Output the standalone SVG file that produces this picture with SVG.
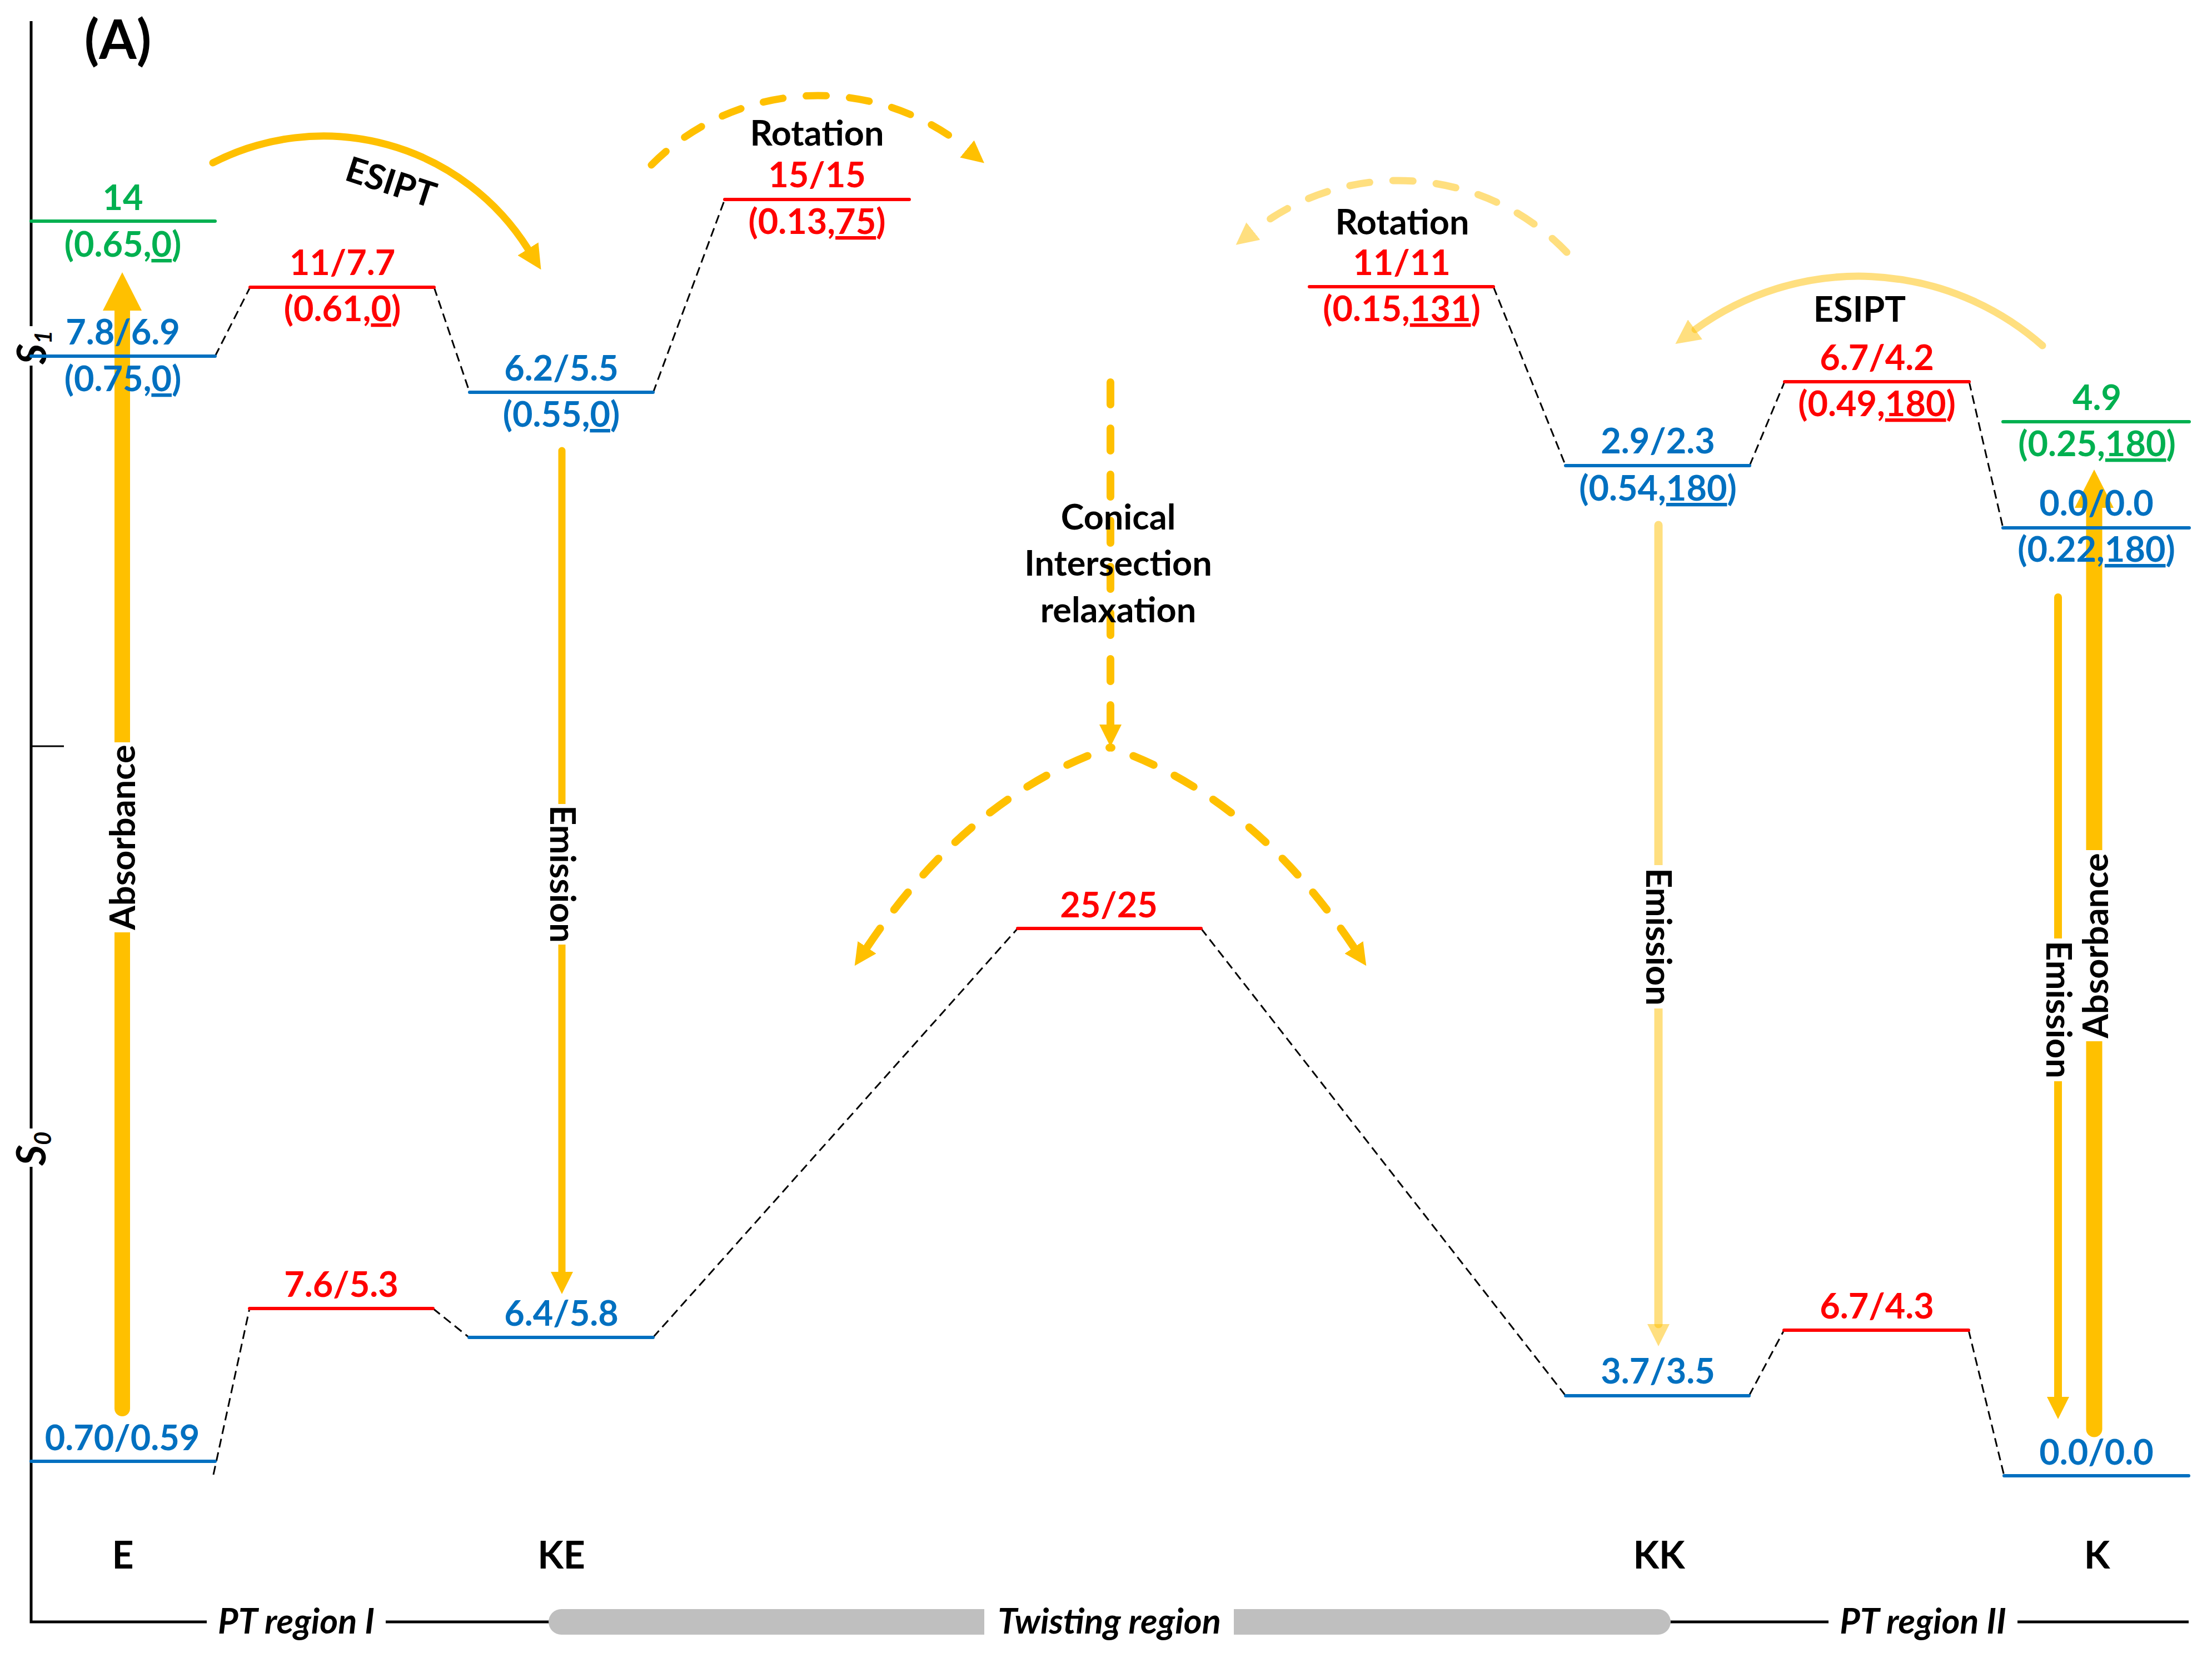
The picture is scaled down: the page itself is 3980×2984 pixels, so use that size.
<svg xmlns="http://www.w3.org/2000/svg" width="3980" height="2984" viewBox="0 0 3980 2984">
<style>
.t{font-family:Lato,'Open Sans','Liberation Sans',sans-serif;font-weight:700;font-size:63px;text-anchor:middle}
.big{font-size:68px}
.cb{fill:#0070C0}.cr{fill:#FF0000}.cg{fill:#00B050}.ck{fill:#000}
.it{font-style:italic}
.u{text-decoration:underline}
.lv{fill:none;stroke-width:6;stroke-linecap:round}
.lb{stroke:#0070C0}.lr{stroke:#FF0000}.lg{stroke:#00B050}
.dl{fill:none;stroke:#000;stroke-width:3;stroke-dasharray:16 9}
.ax{fill:none;stroke:#000;stroke-width:5}
.ya{fill:none;stroke:#FFC000;stroke-linecap:round}
.lt{stroke-opacity:.5}
.dr{stroke-dasharray:36 42}
.dc{stroke-dasharray:40 43}
.wb{fill:#fff}
</style>
<defs>
<marker id="hBig" markerUnits="userSpaceOnUse" viewBox="0 0 69 70" markerWidth="69" markerHeight="70" refX="0" refY="35" orient="auto"><path d="M0,0L69,35L0,70Z" fill="#FFC000"/></marker>
<marker id="hSm" markerUnits="userSpaceOnUse" viewBox="0 0 40 40" markerWidth="40" markerHeight="40" refX="0" refY="20" orient="auto"><path d="M0,0L40,20L0,40Z" fill="#FFC000"/></marker>
<marker id="hSmL" markerUnits="userSpaceOnUse" viewBox="0 0 40 40" markerWidth="40" markerHeight="40" refX="0" refY="20" orient="auto"><path d="M0,0L40,20L0,40Z" fill="#FFC000" fill-opacity=".5"/></marker>
<marker id="hCv" markerUnits="userSpaceOnUse" viewBox="0 0 44 44" markerWidth="44" markerHeight="44" refX="0" refY="22" orient="auto"><path d="M0,0L44,22L0,44Z" fill="#FFC000"/></marker>
<marker id="hCvL" markerUnits="userSpaceOnUse" viewBox="0 0 44 44" markerWidth="44" markerHeight="44" refX="0" refY="22" orient="auto"><path d="M0,0L44,22L0,44Z" fill="#FFC000" fill-opacity=".5"/></marker>
</defs>
<rect width="3980" height="2984" fill="#fff"/>

<g id="axes">
<path class="ax" d="M56,38V2919H3938"/>
<path d="M56,1343H115" stroke="#000" stroke-width="3"/>
<rect class="wb" x="40" y="587" width="34" height="71"/>
<rect class="wb" x="40" y="2031" width="34" height="69"/>
<text class="t it ck" style="font-size:72px;text-anchor:start" transform="translate(83,656) rotate(-90)">S<tspan dy="10" style="font-size:42px">1</tspan></text>
<text class="t it ck" style="font-size:72px;text-anchor:start" transform="translate(82,2098) rotate(-90)">S<tspan dy="10" style="font-size:42px">0</tspan></text>
<rect x="987" y="2896" width="2019" height="46" rx="23" fill="#BFBFBF"/>
<rect class="wb" x="372" y="2885" width="322" height="70"/>
<rect class="wb" x="1771" y="2885" width="449" height="70"/>
<rect class="wb" x="3290" y="2885" width="340" height="70"/>
<text class="t it ck" x="533" y="2940">PT region I</text>
<text class="t it ck" x="1996" y="2940">Twisting region</text>
<text class="t it ck" x="3460" y="2940">PT region II</text>
<text class="t ck" style="font-size:97px" x="212" y="106">(A)</text>
</g>

<g id="connectors">
<path class="dl" d="M387,641L450,517M781,517L845,706M1175,707L1304,359M2687,516L2817,838M3148,838L3211,687M3543,687L3604,950"/>
<path class="dl" d="M384,2654L449,2355M779,2355L844,2407M1175,2407L1831,1671M2161,1671L2817,2512M3147,2512L3210,2394M3542,2394L3606,2656"/>
<path class="ya" stroke-width="28" d="M220,2535V559" marker-end="url(#hBig)"/>
<path class="ya" stroke-width="29" d="M3768,2572V914" marker-end="url(#hBig)"/>
<path class="ya" stroke-width="13" d="M1011,811V2289" marker-end="url(#hSm)"/>
<path class="ya" stroke-width="14" d="M3703,1075V2514" marker-end="url(#hSm)"/>
<path class="ya lt" stroke-width="15" d="M2984,945V2383" marker-end="url(#hSmL)"/>
<path class="ya" stroke-width="13" d="M383,293A435,435 0 0 1 950,448" marker-end="url(#hCv)"/>
<path class="ya lt" stroke-width="13" d="M3675,622A500,500 0 0 0 3050,593" marker-end="url(#hCvL)"/>
<path class="ya dr" stroke-width="13" d="M1172,297A422.5,422.5 0 0 1 1740,268" marker-end="url(#hSm)"/>
<path class="ya lt dr" stroke-width="13" d="M2819,454A420,420 0 0 0 2255,416" marker-end="url(#hSmL)"/>
<path class="ya dc" stroke-width="14" d="M1998,688V1304" marker-end="url(#hSm)"/>
<path class="ya" stroke-width="14" stroke-dasharray="40 42" stroke-dashoffset="38" d="M1998,1345Q1743,1432 1560,1705" marker-end="url(#hSm)"/>
<path class="ya" stroke-width="14" stroke-dasharray="40 42" stroke-dashoffset="38" d="M1998,1345Q2253,1432 2436,1705" marker-end="url(#hSm)"/>
<rect class="wb" x="205" y="1336" width="31" height="342"/>
<rect class="wb" x="1003" y="1447" width="17" height="253"/>
<rect class="wb" x="2975" y="1557" width="19" height="258"/>
<rect class="wb" x="3694" y="1689" width="18" height="257"/>
<rect class="wb" x="3752" y="1530" width="33" height="344"/>
<text class="t ck" transform="translate(243,1507) rotate(-90)">Absorbance</text>
<text class="t ck" transform="translate(3793,1702) rotate(-90)">Absorbance</text>
<text class="t ck" transform="translate(990,1573) rotate(90)">Emission</text>
<text class="t ck" transform="translate(2962,1686) rotate(90)">Emission</text>
<text class="t ck" transform="translate(3682,1817) rotate(90)">Emission</text>
<text class="t ck" transform="translate(703,330) rotate(18)" dy="20">ESIPT</text>
<text class="t ck" x="3346" y="579">ESIPT</text>
<text class="t ck" x="1470" y="262">Rotation</text>
<text class="t ck" x="2523" y="422">Rotation</text>
<text class="t ck" x="2012" y="953">Conical</text>
<text class="t ck" x="2012" y="1036">Intersection</text>
<text class="t ck" x="2012" y="1120">relaxation</text>
</g>

<g id="E-S1-FC"><path class="lv lg" d="M56,398H387"/><text class="t cg" x="221" y="378">14</text><text class="t cg" x="221" y="462">(0.65,<tspan class="u">0</tspan>)</text></g>
<g id="E-S1"><path class="lv lb" d="M56,641H387"/><text class="t cb" x="221" y="620">7.8/6.9</text><text class="t cb" x="221" y="704">(0.75,<tspan class="u">0</tspan>)</text></g>
<g id="TS1-S1"><path class="lv lr" d="M450,517H781"/><text class="t cr" x="616" y="495">11/7.7</text><text class="t cr" x="616" y="578">(0.61,<tspan class="u">0</tspan>)</text></g>
<g id="KE-S1"><path class="lv lb" d="M845,706H1175"/><text class="t cb" x="1010" y="685">6.2/5.5</text><text class="t cb" x="1010" y="768">(0.55,<tspan class="u">0</tspan>)</text></g>
<g id="TS2-S1"><path class="lv lr" d="M1304,359H1636"/><text class="t cr" x="1470" y="337">15/15</text><text class="t cr" x="1470" y="421">(0.13,<tspan class="u">75</tspan>)</text></g>
<g id="TS3-S1"><path class="lv lr" d="M2356,516H2687"/><text class="t cr" x="2522" y="495">11/11</text><text class="t cr" x="2522" y="578">(0.15,<tspan class="u">131</tspan>)</text></g>
<g id="KK-S1"><path class="lv lb" d="M2817,838H3148"/><text class="t cb" x="2983" y="816">2.9/2.3</text><text class="t cb" x="2983" y="901">(0.54,<tspan class="u">180</tspan>)</text></g>
<g id="TS4-S1"><path class="lv lr" d="M3211,687H3543"/><text class="t cr" x="3377" y="666">6.7/4.2</text><text class="t cr" x="3377" y="749">(0.49,<tspan class="u">180</tspan>)</text></g>
<g id="K-S1-FC"><path class="lv lg" d="M3604,759H3939"/><text class="t cg" x="3773" y="738">4.9</text><text class="t cg" x="3773" y="821">(0.25,<tspan class="u">180</tspan>)</text></g>
<g id="K-S1"><path class="lv lb" d="M3604,950H3939"/><text class="t cb" x="3772" y="928">0.0/0.0</text><text class="t cb" x="3772" y="1011">(0.22,<tspan class="u">180</tspan>)</text></g>

<g id="E-S0"><path class="lv lb" d="M56,2630H387"/><text class="t cb" x="220" y="2610">0.70/0.59</text><text class="t big ck" x="221" y="2823">E</text></g>
<g id="TS1-S0"><path class="lv lr" d="M449,2355H779"/><text class="t cr" x="614" y="2334">7.6/5.3</text></g>
<g id="KE-S0"><path class="lv lb" d="M844,2407H1175"/><text class="t cb" x="1010" y="2386">6.4/5.8</text><text class="t big ck" x="1010" y="2823">KE</text></g>
<g id="TS2-S0"><path class="lv lr" d="M1831,1671H2161"/><text class="t cr" x="1995" y="1651">25/25</text></g>
<g id="KK-S0"><path class="lv lb" d="M2817,2512H3147"/><text class="t cb" x="2983" y="2490">3.7/3.5</text><text class="t big ck" x="2985" y="2823">KK</text></g>
<g id="TS4-S0"><path class="lv lr" d="M3210,2394H3542"/><text class="t cr" x="3377" y="2373">6.7/4.3</text></g>
<g id="K-S0"><path class="lv lb" d="M3606,2656H3938"/><text class="t cb" x="3772" y="2636">0.0/0.0</text><text class="t big ck" x="3773" y="2823">K</text></g>
</svg>
